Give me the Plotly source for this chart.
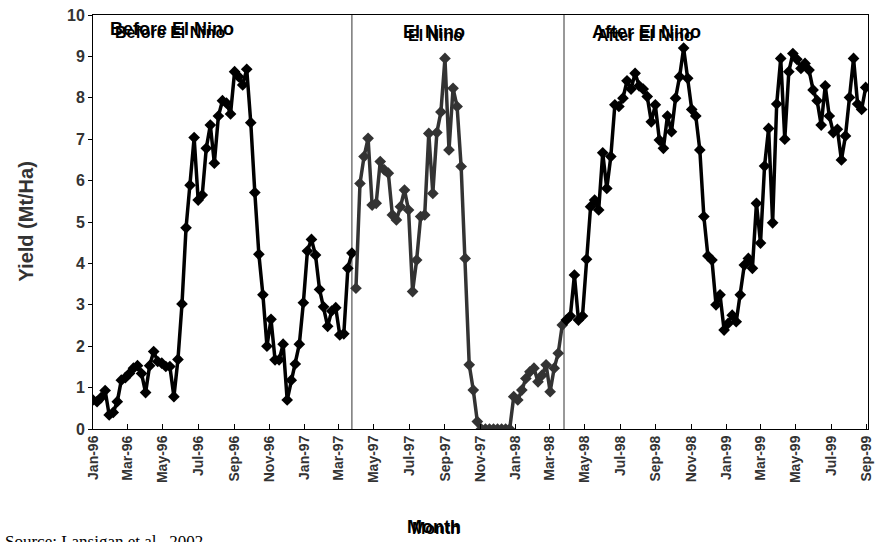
import plotly.graph_objects as go
import pandas as pd

# ---- data (weekly yield readings, Mt/Ha) ----
start_date = "1996-01-01"

before_yield = [0.70, 0.66, 0.76, 0.93, 0.34, 0.40, 0.66, 1.18, 1.24, 1.34,
                1.47, 1.53, 1.34, 0.88, 1.53, 1.87, 1.63, 1.59, 1.51, 1.51,
                0.78, 1.68, 3.02, 4.86, 5.89, 7.04, 5.53, 5.65, 6.78, 7.34,
                6.42, 7.56, 7.93, 7.87, 7.61, 8.63, 8.51, 8.31, 8.69, 7.40,
                5.71, 4.22, 3.24, 2.00, 2.65, 1.67, 1.67, 2.05, 0.70, 1.18,
                1.57, 2.05, 3.05, 4.30, 4.58, 4.20, 3.37, 2.95, 2.48, 2.85,
                2.93, 2.27, 2.30, 3.88, 4.25]

elnino_yield = [3.40, 5.93, 6.58, 7.02, 5.41, 5.45, 6.46, 6.26, 6.18, 5.17,
                5.05, 5.37, 5.77, 5.29, 3.32, 4.08, 5.13, 5.17, 7.14, 5.69,
                7.16, 7.66, 8.95, 6.74, 8.23, 7.79, 6.34, 4.12, 1.55, 0.94,
                0.18, 0.00, 0.00, 0.00, 0.00, 0.00, 0.00, 0.00, 0.00, 0.78,
                0.70, 0.94, 1.22, 1.38, 1.47, 1.14, 1.30, 1.55, 0.90, 1.47,
                1.83, 2.51]

after_yield = [2.63, 2.73, 3.72, 2.63, 2.73, 4.10, 5.37, 5.53, 5.29, 6.67,
               5.81, 6.58, 7.83, 7.79, 7.99, 8.41, 8.21, 8.59, 8.29, 8.21,
               8.03, 7.42, 7.83, 6.98, 6.78, 7.56, 7.18, 7.99, 8.51, 9.20,
               8.47, 7.72, 7.56, 6.74, 5.13, 4.18, 4.08, 3.00, 3.24, 2.39,
               2.55, 2.75, 2.59, 3.24, 3.96, 4.12, 3.88, 5.45, 4.49, 6.35,
               7.26, 4.98, 7.85, 8.95, 7.00, 8.63, 9.07, 8.93, 8.71, 8.83,
               8.67, 8.19, 7.93, 7.34, 8.29, 7.56, 7.16, 7.24, 6.50, 7.08,
               8.01, 8.95, 7.85, 7.72, 8.25]

period_names = ["Before El Nino", "El Nino", "After El Nino"]
period_bounds = ["1997-03-24", "1998-03-26"]
axis_range = ["1996-01-01", "1999-09-03"]

n_total = len(before_yield) + len(elnino_yield) + len(after_yield)
weeks = pd.date_range(start_date, periods=n_total, freq="7D")
nb, ne = len(before_yield), len(elnino_yield)
before_x = weeks[:nb]
elnino_x = weeks[nb:nb + ne]
after_x = weeks[nb + ne:]

FONT = "Liberation Sans, Arial, sans-serif"

fig = go.Figure()
for xs, ys, col, nm in [(before_x, before_yield, "#000000", period_names[0]),
                        (elnino_x, elnino_yield, "#333333", period_names[1]),
                        (after_x, after_yield, "#000000", period_names[2])]:
    fig.add_trace(go.Scatter(
        x=xs, y=ys, mode="lines+markers", name=nm,
        line=dict(color=col, width=3.5),
        marker=dict(symbol="diamond", size=9, color=col),
        showlegend=False))

for b in period_bounds:
    fig.add_shape(type="line", xref="x", yref="paper", x0=b, x1=b, y0=0, y1=1,
                  line=dict(color="#333333", width=1), layer="below")

label_pos = [("1996-01-27", 0.966), ("1997-06-17", 0.959), ("1998-05-10", 0.959)]
for (lx, ly), nm in zip(label_pos, period_names):
    fig.add_annotation(x=lx, y=ly, xref="x", yref="paper", text=nm,
                       showarrow=False, xanchor="left", yanchor="middle",
                       font=dict(family=FONT, size=18, weight="bold", color="#000000"))
    fig.add_annotation(x=lx, y=ly - 0.008, xref="x", yref="paper", text=nm,
                       xshift=5, showarrow=False, xanchor="left", yanchor="middle",
                       font=dict(family=FONT, size=16, weight="bold", color="#000000"))

# axis titles
fig.add_annotation(x=-0.086, y=0.502, xref="paper", yref="paper",
                   text="Yield (Mt/Ha)", textangle=-90, showarrow=False,
                   xanchor="center", yanchor="middle",
                   font=dict(family=FONT, size=20, weight="bold", color="#333333"))
fig.add_annotation(x=0.44, y=-0.237, xref="paper", yref="paper",
                   text="Month", showarrow=False, xanchor="center", yanchor="middle",
                   font=dict(family=FONT, size=18, weight="bold", color="#000000"))
fig.add_annotation(x=0.443, y=-0.241, xref="paper", yref="paper",
                   text="Month", showarrow=False, xanchor="center", yanchor="middle",
                   font=dict(family=FONT, size=16, weight="bold", color="#000000"))
fig.add_annotation(x=-0.116, y=-0.272, xref="paper", yref="paper",
                   text="Source: Lansigan et al., 2002", showarrow=False,
                   xanchor="left", yanchor="middle",
                   font=dict(family="Liberation Serif, Times New Roman, serif",
                             size=17, color="#000000"))

fig.update_layout(
    width=875, height=542,
    margin=dict(l=93, r=7, t=15, b=113, autoexpand=False),
    plot_bgcolor="#ffffff", paper_bgcolor="#ffffff",
    xaxis=dict(type="date", range=axis_range, tick0="1996-01-01", dtick="M2",
               tickformat="%b-%y", tickangle=-90, showgrid=False, zeroline=False,
               ticks="inside", ticklen=5, tickcolor="#000000", automargin=False,
               showline=True, linecolor="#000000", linewidth=1, mirror=True,
               tickfont=dict(family=FONT, size=14, weight="bold", color="#333333")),
    yaxis=dict(range=[0, 10], dtick=1, showgrid=False, zeroline=False,
               ticks="outside", ticklen=4, tickcolor="#000000", automargin=False,
               showline=True, linecolor="#000000", linewidth=1, mirror=True,
               tickfont=dict(family=FONT, size=16, weight="bold", color="#333333")),
)

fig.write_html("out.html",
               config={"displayModeBar": False},
               post_script="document.body.style.margin='0';"
                           "document.body.style.overflow='hidden';")
